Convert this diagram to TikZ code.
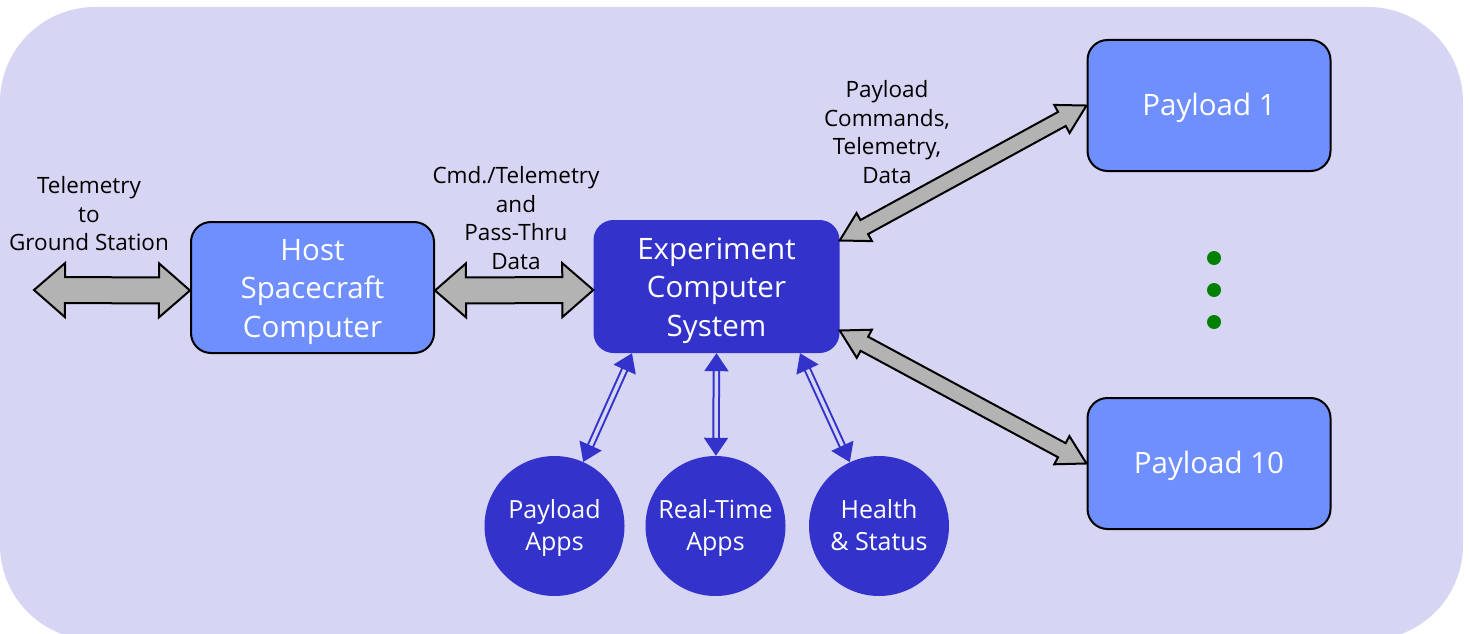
\documentclass[tikz,border=0pt]{standalone}
\usepackage{fontspec}
\setmainfont{Open Sans}
\usetikzlibrary{arrows.meta,calc}
\definecolor{bg}{HTML}{D6D6F4}
\definecolor{lightbox}{HTML}{6F8FFF}
\definecolor{darkbox}{HTML}{3333CC}
\definecolor{arrowgray}{HTML}{B3B3B3}
\definecolor{dotgreen}{HTML}{008000}
\newcommand\tup[1]{\rule{0pt}{#1}}
\newcommand\tdown[1]{\rule[-#1]{0pt}{#1}}
% fat double arrow: from, to, head length, head half width, shaft half width
\newcommand\fatarrow[5]{%
  \draw[fat] let \p1=($(#2)-(#1)$), \n1={atan2(\y1,\x1)}, \n2={veclen(\x1,\y1)} in
    [shift={(#1)}, rotate=\n1]
    (0pt,0pt) -- (#3,#4) -- (#3,#5) -- ({\n2-#3},#5) -- ({\n2-#3},#4) -- (\n2,0pt)
    -- ({\n2-#3},-#4) -- ({\n2-#3},-#5) -- (#3,-#5) -- (#3,-#4) -- cycle;}
\begin{document}
\begin{tikzpicture}[x=1pt,y=-1pt,
  lbox/.style={draw=black, line width=2pt, fill=lightbox, rounded corners=20pt,
    minimum width=243pt, minimum height=131pt, text=white, align=center,
    font=\fontsize{29.5}{38.5}\selectfont, inner sep=0pt},
  dbox/.style={fill=darkbox, rounded corners=20pt, minimum width=246pt,
    minimum height=133pt, text=white, align=center,
    font=\fontsize{29.5}{38.5}\selectfont, inner sep=0pt},
  pbox/.style={lbox, font=\fontsize{29.5}{36}\selectfont},
  app/.style={circle, fill=darkbox, minimum size=140pt, text=white, align=center,
    font=\fontsize{25}{32}\selectfont, inner sep=0pt},
  lbl/.style={align=center, font=\fontsize{22.5}{28.5}\selectfont, text=black},
  fat/.style={draw=black, line width=2pt, fill=arrowgray, line join=miter},
  blink/.style={draw=darkbox, line width=2pt, double=bg, double distance=3.5pt,
    {Triangle[length=18pt,width=24pt]}-{Triangle[length=18pt,width=24pt]}},
  gdot/.style={circle, fill=dotgreen, minimum size=14pt, inner sep=0pt}]
\useasboundingbox (0,0) rectangle (1470,634);
\fill[bg, rounded corners=95pt] (0,7) rectangle (1463,640);

% boxes
\node[lbox] (host) at (312.5,287.5) {\tup{30pt}Host\\Spacecraft\\Computer};
\node[dbox] (exp) at (716.5,286.5) {\tup{30pt}Experiment\\Computer\\System};
\node[pbox] (p1) at (1209,105.5) {\tup{28pt}Payload 1};
\node[pbox] (p10) at (1209,463.5) {\tup{28pt}Payload 10};

% circles
\node[app] (pa) at (554.5,526) {\tup{23pt}Payload\\Apps};
\node[app] (rt) at (715.5,526) {\tup{23pt}Real-Time\\Apps};
\node[app] (hs) at (879,526) {\tup{23pt}Health\\\& Status\tdown{6.5pt}};

% dots
\node[gdot] (d1) at (1214,258) {};
\node[gdot] (d2) at (1214,290) {};
\node[gdot] (d3) at (1214,322) {};

% labels
\node[lbl] (lg) at (89,214) {Telemetry\\to\\Ground Station};
\node[lbl] (lc) at (516,218) {Cmd./Telemetry\\and\\Pass-Thru\\Data};
\node[lbl] (lp) at (887,132) {Payload\\Commands,\\Telemetry,\\Data};

% fat arrows
\coordinate (gs) at (34,290);
\coordinate (hw) at ([yshift=-3pt]host.west);
\coordinate (he) at ([yshift=-3pt]host.east);
\coordinate (ew) at ([yshift=-3.5pt]exp.west);
\coordinate (eu) at ([yshift=46pt]exp.east);
\coordinate (el) at ([yshift=-44pt]exp.east);
\fatarrow{gs}{hw}{31pt}{27pt}{13pt}
\fatarrow{he}{ew}{31pt}{27pt}{13pt}
\fatarrow{eu}{p1.west}{28pt}{16pt}{8pt}
\fatarrow{el}{p10.west}{28pt}{16pt}{8pt}

% blue links
\coordinate (s1) at ([xshift=-84.5pt]exp.south);
\coordinate (s2) at (exp.south);
\coordinate (s3) at ([xshift=83.5pt]exp.south);
\draw[blink] (s1) -- (pa);
\draw[blink] (s2) -- (rt);
\draw[blink] (s3) -- (hs);
\end{tikzpicture}
\end{document}
